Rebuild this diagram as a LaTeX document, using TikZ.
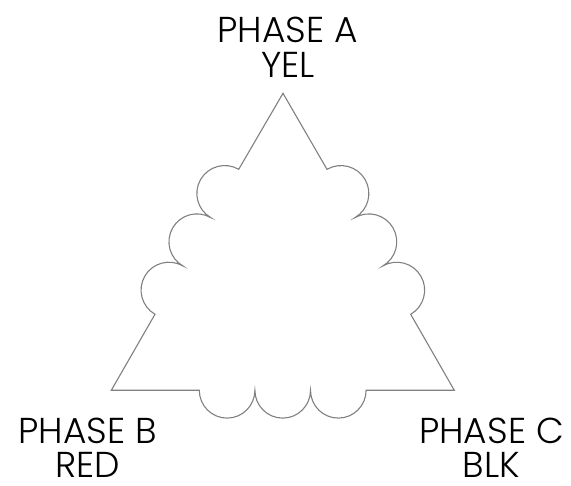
\documentclass[tikz,border=0pt]{standalone}
\usepackage{fontspec}
\setmainfont{Poppins Light}
\tikzset{
  x=1pt,y=-1pt,
  winding/.style={draw=black!50,line width=1.1pt,line join=miter},
  label/.style={inner sep=0pt,font=\fontsize{36}{42}\selectfont,text=black,anchor=base},
}
\begin{document}
\begin{tikzpicture}
\useasboundingbox (0,0) rectangle (571,486);
\coordinate (A) at (283,93.3);
\coordinate (B) at (111.3,390.3);
\coordinate (C) at (454.3,390.3);
\coordinate (L) at (238.7,169.3);
\coordinate (R) at (326.7,169.3);
\coordinate (LE) at (155,314.3);
\coordinate (RE) at (410.7,314.3);
\coordinate (BS) at (199.3,390.3);
\coordinate (BE) at (366.3,390.3);
\draw[winding] (A) -- (L)
  arc[start angle=-60,end angle=-240,radius=27.9]
  arc[start angle=-60,end angle=-240,radius=27.9]
  arc[start angle=-60,end angle=-240,radius=27.9]
  -- (B) -- (BS)
  arc[start angle=180,end angle=0,radius=27.8]
  arc[start angle=180,end angle=0,radius=27.8]
  arc[start angle=180,end angle=0,radius=27.8]
  -- (C) -- (RE)
  arc[start angle=60,end angle=-120,radius=27.9]
  arc[start angle=60,end angle=-120,radius=27.9]
  arc[start angle=60,end angle=-120,radius=27.9]
  -- cycle;
\node[label] (a1) at (287.5,43) {PHASE A};
\node[label] (a2) at (288,78) {YEL};
\node[label] (b1) at (87.5,443.5) {PHASE B};
\node[label] (b2) at (87.5,477.7) {RED};
\node[label] (c1) at (491.5,443.5) {PHASE C};
\node[label] (c2) at (491.5,477.7) {BLK};
\end{tikzpicture}
\end{document}
